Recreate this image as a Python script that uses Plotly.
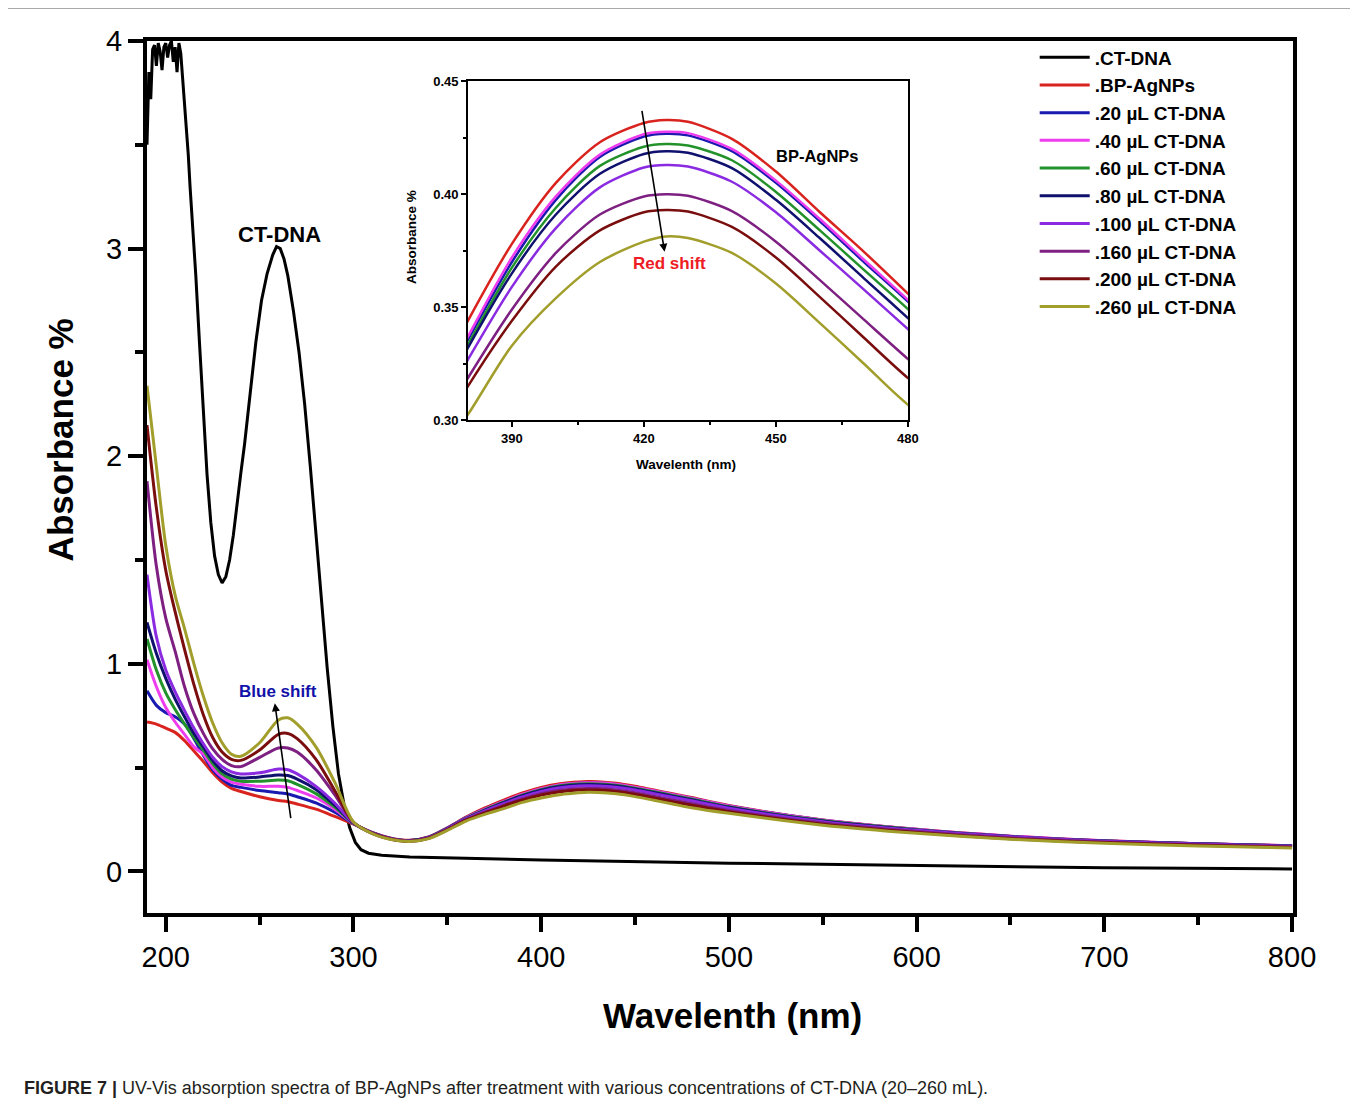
import plotly.graph_objects as go

# ------------------------------------------------------------------
# data
# ------------------------------------------------------------------
WL = [190, 195, 200, 205, 210, 215, 220, 225, 230, 235, 240,
      250, 260, 265, 270, 280, 290, 300,
      310, 320, 330, 340, 350, 360, 370,
      380, 390, 400, 410, 420, 425, 430, 440, 450, 460, 470, 480,
      500, 550, 600, 650, 700, 750, 800]

CT_WL = [190, 191, 192, 193, 194, 195, 196, 197, 198, 199, 200, 201, 202, 203, 204,
         205, 206, 207, 208, 209, 210, 211, 212, 213, 214.6, 216, 218, 220, 222, 224,
         226, 228, 230, 232, 234, 236, 238, 240, 242, 245, 248, 251, 254, 257, 259,
         261, 263, 265, 268, 271, 274, 277, 280, 283, 286, 289, 292, 295, 298, 301,
         304, 308, 315, 330, 400, 500, 600, 700, 800]
CT_DNA = [3.50, 3.85, 3.72, 3.96, 3.98, 3.88, 3.99, 3.95, 3.86, 3.97, 3.99, 3.92, 3.98, 4.00, 3.90,
          3.97, 3.85, 3.99, 3.94, 3.82, 3.72, 3.60, 3.45, 3.29, 3.09, 2.87, 2.54, 2.21, 1.91, 1.68,
          1.52, 1.43, 1.39, 1.42, 1.50, 1.62, 1.78, 1.92, 2.06, 2.30, 2.55, 2.75, 2.88, 2.97, 3.01,
          3.00, 2.95, 2.87, 2.70, 2.50, 2.25, 1.95, 1.62, 1.30, 0.98, 0.70, 0.47, 0.32, 0.21, 0.14,
          0.105, 0.088, 0.078, 0.070, 0.055, 0.040, 0.028, 0.018, 0.012]

BP_AGNPS = [0.72, 0.71, 0.69, 0.67, 0.63, 0.58, 0.53, 0.475, 0.43, 0.40, 0.385,
            0.36, 0.342, 0.336, 0.325, 0.30, 0.265, 0.228,
            0.188, 0.160, 0.150, 0.166, 0.210, 0.262, 0.306,
            0.344, 0.378, 0.405, 0.423, 0.4315, 0.4328, 0.432, 0.4245, 0.410, 0.392, 0.3745, 0.356,
            0.318, 0.248, 0.203, 0.170, 0.148, 0.134, 0.124]
UL_20 = [0.87, 0.80, 0.765, 0.745, 0.71, 0.64, 0.56, 0.49, 0.445, 0.415, 0.405,
         0.39, 0.379, 0.373, 0.36, 0.33, 0.285, 0.230,
         0.187, 0.159, 0.149, 0.165, 0.209, 0.259, 0.300,
         0.3356, 0.370, 0.3975, 0.4165, 0.4255, 0.4267, 0.426, 0.419, 0.405, 0.388, 0.370, 0.3525,
         0.315, 0.247, 0.202, 0.169, 0.147, 0.133, 0.123]
UL_40 = [1.02, 0.89, 0.79, 0.72, 0.66, 0.60, 0.565, 0.50, 0.455, 0.43, 0.42,
         0.41, 0.41, 0.405, 0.39, 0.355, 0.30, 0.231,
         0.187, 0.159, 0.149, 0.165, 0.208, 0.258, 0.300,
         0.337, 0.372, 0.399, 0.4175, 0.4265, 0.4276, 0.427, 0.420, 0.406, 0.389, 0.371, 0.3533,
         0.316, 0.248, 0.203, 0.170, 0.148, 0.134, 0.124]
UL_60 = [1.12, 0.97, 0.86, 0.78, 0.71, 0.645, 0.585, 0.52, 0.47, 0.445, 0.435,
         0.435, 0.44, 0.437, 0.42, 0.375, 0.31, 0.232,
         0.186, 0.158, 0.148, 0.164, 0.207, 0.256, 0.297,
         0.3334, 0.3675, 0.394, 0.4125, 0.421, 0.4222, 0.4215, 0.415, 0.401, 0.384, 0.3665, 0.3492,
         0.312, 0.245, 0.201, 0.168, 0.147, 0.133, 0.123]
UL_80 = [1.20, 1.05, 0.93, 0.83, 0.745, 0.665, 0.60, 0.535, 0.485, 0.46, 0.45,
         0.455, 0.465, 0.462, 0.445, 0.395, 0.32, 0.233,
         0.186, 0.158, 0.148, 0.164, 0.206, 0.255, 0.295,
         0.332, 0.365, 0.391, 0.409, 0.4178, 0.419, 0.4183, 0.4115, 0.3975, 0.3805, 0.3628, 0.3452,
         0.309, 0.243, 0.200, 0.168, 0.147, 0.133, 0.123]
UL_100 = [1.43, 1.13, 0.97, 0.865, 0.775, 0.69, 0.615, 0.55, 0.505, 0.48, 0.47,
          0.475, 0.493, 0.49, 0.47, 0.41, 0.33, 0.234,
          0.185, 0.157, 0.147, 0.163, 0.205, 0.253, 0.292,
          0.3268, 0.359, 0.385, 0.403, 0.4118, 0.4129, 0.4122, 0.4055, 0.392, 0.375, 0.3578, 0.3403,
          0.305, 0.240, 0.198, 0.167, 0.146, 0.132, 0.122]
UL_160 = [1.88, 1.47, 1.22, 1.06, 0.89, 0.76, 0.665, 0.59, 0.54, 0.51, 0.505,
          0.55, 0.595, 0.595, 0.575, 0.49, 0.37, 0.236,
          0.184, 0.156, 0.146, 0.161, 0.203, 0.250, 0.286,
          0.3187, 0.349, 0.374, 0.391, 0.399, 0.400, 0.3993, 0.3925, 0.379, 0.362, 0.3445, 0.3271,
          0.294, 0.233, 0.192, 0.162, 0.142, 0.129, 0.119]
UL_200 = [2.15, 1.75, 1.45, 1.25, 1.07, 0.90, 0.755, 0.645, 0.575, 0.54, 0.535,
          0.585, 0.66, 0.665, 0.64, 0.54, 0.39, 0.237,
          0.183, 0.155, 0.145, 0.160, 0.201, 0.247, 0.282,
          0.315, 0.344, 0.368, 0.384, 0.392, 0.393, 0.3923, 0.3855, 0.372, 0.3545, 0.3365, 0.3187,
          0.288, 0.228, 0.188, 0.158, 0.139, 0.126, 0.116]
UL_260 = [2.34, 1.95, 1.57, 1.33, 1.17, 1.00, 0.845, 0.715, 0.62, 0.565, 0.555,
          0.62, 0.73, 0.74, 0.71, 0.60, 0.43, 0.238,
          0.182, 0.154, 0.144, 0.158, 0.198, 0.243, 0.275,
          0.3025, 0.333, 0.354, 0.370, 0.379, 0.3813, 0.3806, 0.374, 0.3605, 0.343, 0.325, 0.3069,
          0.280, 0.223, 0.184, 0.155, 0.136, 0.123, 0.113]

NAMES = [".BP-AgNPs", ".20 µL CT-DNA", ".40 µL CT-DNA", ".60 µL CT-DNA", ".80 µL CT-DNA",
         ".100 µL CT-DNA", ".160 µL CT-DNA", ".200 µL CT-DNA", ".260 µL CT-DNA"]
SERIES = [BP_AGNPS, UL_20, UL_40, UL_60, UL_80, UL_100, UL_160, UL_200, UL_260]
CORES = ["#D8231E", "#1A1AB0", "#EE3DEE", "#23922B", "#10106E",
         "#8A2BE2", "#7E1F82", "#7A0E0E", "#A29E2C"]

FONTE = "Liberation Sans"

# ------------------------------------------------------------------
# figure
# ------------------------------------------------------------------
fig = go.Figure()

fig.add_trace(go.Scatter(
    x=CT_WL, y=CT_DNA, mode="lines", name=".CT-DNA",
    line=dict(color="black", width=3),
))
for nome, ys, cor in zip(NAMES, SERIES, CORES):
    fig.add_trace(go.Scatter(
        x=WL, y=ys, mode="lines", name=nome,
        line=dict(color=cor, width=3, shape="spline", smoothing=0.8),
    ))

# inset: same spectra zoomed around the plasmon band
for nome, ys, cor in zip(NAMES, SERIES, CORES):
    fig.add_trace(go.Scatter(
        x=WL, y=ys, mode="lines", name=nome, showlegend=False,
        xaxis="x2", yaxis="y2",
        line=dict(color=cor, width=2.5, shape="spline", smoothing=0.8),
    ))

eixo_main = dict(
    showgrid=False, zeroline=False, showline=True, linecolor="black", linewidth=4,
    mirror=True, ticks="outside", ticklen=15, tickwidth=4, tickcolor="black",
    tickfont=dict(family=FONTE, size=29, color="black"),
)
eixo_ins = dict(
    showgrid=False, zeroline=False, showline=True, linecolor="black", linewidth=1.5,
    mirror=True, ticks="outside", ticklen=5, tickwidth=1.5, tickcolor="black",
    tickfont=dict(family=FONTE, size=13, color="black", weight="bold"),
)

# the page body adds 8 px, so margins are shifted by that much
fig.update_layout(
    width=1358, height=1107,
    margin=dict(l=139, r=73, t=33, b=202),
    paper_bgcolor="white", plot_bgcolor="white",
    showlegend=True,
    legend=dict(
        x=0.7746, y=1.003, xanchor="left", yanchor="top",
        bgcolor="rgba(0,0,0,0)", itemwidth=50,
        font=dict(family=FONTE, size=19, color="black", weight="bold"),
    ),
    xaxis=dict(**eixo_main, range=[190, 800.5], tick0=200, dtick=100,
               minor=dict(ticks="outside", ticklen=8, tickwidth=4, tickcolor="black",
                          tick0=200, dtick=50)),
    yaxis=dict(**eixo_main, range=[-0.2, 4.0], tick0=0, dtick=1,
               minor=dict(ticks="outside", ticklen=8, tickwidth=4, tickcolor="black",
                          tick0=0, dtick=0.5)),
    xaxis2=dict(**eixo_ins, domain=[0.280, 0.664], anchor="y2", range=[380, 480],
                tick0=390, dtick=30,
                minor=dict(ticks="outside", ticklen=3, tickwidth=1.5, tickcolor="black",
                           tick0=390, dtick=15)),
    yaxis2=dict(**eixo_ins, domain=[0.565, 0.954], anchor="x2", range=[0.30, 0.45],
                tick0=0.30, dtick=0.05, tickformat=".2f",
                minor=dict(ticks="outside", ticklen=3, tickwidth=1.5, tickcolor="black",
                           tick0=0.30, dtick=0.025)),
)

anot = [
    # main axis titles
    dict(text="<b>Wavelenth (nm)</b>", x=0.511, y=-0.117, xref="paper", yref="paper",
         xanchor="center", yanchor="middle", showarrow=False,
         font=dict(family=FONTE, size=35, color="black")),
    dict(text="<b>Absorbance %</b>", x=-0.0759, y=0.542, xref="paper", yref="paper",
         xanchor="center", yanchor="middle", textangle=-90, showarrow=False,
         font=dict(family=FONTE, size=35, color="black")),
    # inset axis titles
    dict(text="<b>Wavelenth (nm)</b>", x=0.4703, y=0.5149, xref="paper", yref="paper",
         xanchor="center", yanchor="middle", showarrow=False,
         font=dict(family=FONTE, size=13.5, color="black")),
    dict(text="<b>Absorbance %</b>", x=0.2304, y=0.7752, xref="paper", yref="paper",
         xanchor="center", yanchor="middle", textangle=-90, showarrow=False,
         font=dict(family=FONTE, size=13.5, color="black")),
    # labels in the plot
    dict(text="<b>CT-DNA</b>", x=260.8, y=3.07, xref="x", yref="y", showarrow=False,
         font=dict(family=FONTE, size=22, color="black")),
    dict(text="<b>Blue shift</b>", x=259.7, y=0.866, xref="x", yref="y", showarrow=False,
         font=dict(family=FONTE, size=17, color="#1212A8")),
    dict(text="", x=258.1, y=0.81, ax=266.7, ay=0.25, xref="x", yref="y",
         axref="x", ayref="y", showarrow=True, arrowhead=2, arrowsize=1,
         arrowwidth=1.6, arrowcolor="black"),
    dict(text="<b>BP-AgNPs</b>", x=459.5, y=0.4168, xref="x2", yref="y2", showarrow=False,
         font=dict(family=FONTE, size=16.5, color="black")),
    dict(text="<b>Red shift</b>", x=425.9, y=0.3695, xref="x2", yref="y2", showarrow=False,
         font=dict(family=FONTE, size=17, color="#EE1C24")),
    dict(text="", x=424.7, y=0.3745, ax=419.5, ay=0.4375, xref="x2", yref="y2",
         axref="x2", ayref="y2", showarrow=True, arrowhead=2, arrowsize=1,
         arrowwidth=1.6, arrowcolor="black"),
    # caption
    dict(text="<b>FIGURE 7 |</b> UV-Vis absorption spectra of BP-AgNPs after treatment with "
              "various concentrations of CT-DNA (20–260 mL).",
         x=-0.109, y=-0.2007, xref="paper", yref="paper", xanchor="left", yanchor="middle",
         showarrow=False, font=dict(family=FONTE, size=18, color="#231F20")),
]
fig.update_layout(annotations=anot)

# light frame round the figure panel
for x0, y0, x1, y1 in [(-0.1222, 1.0378, 1.0506, 1.0378),
                       (-0.1222, 1.0378, -0.1222, -0.219),
                       (1.0506, 1.0378, 1.0506, -0.219)]:
    fig.add_shape(type="line", xref="paper", yref="paper", x0=x0, y0=y0, x1=x1, y1=y1,
                  line=dict(color="#8C8C8C", width=1.2))

fig.write_html("out.html")
